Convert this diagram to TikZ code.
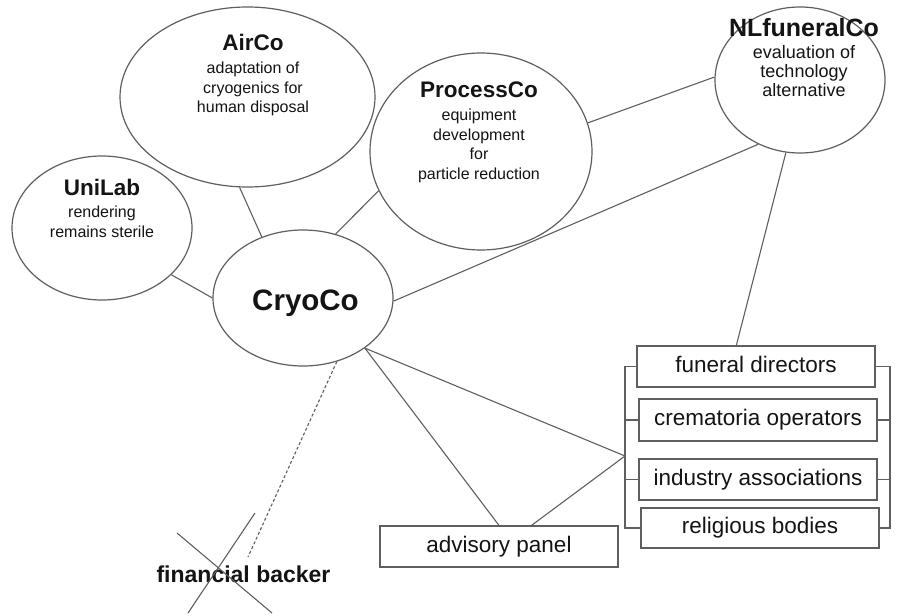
\documentclass[tikz,border=0pt]{standalone}
\usepackage{fontspec}
\setmainfont{Liberation Sans}
\usetikzlibrary{shapes.geometric}
\definecolor{ln}{RGB}{95,95,95}
\definecolor{tx}{RGB}{20,20,20}
\newcommand{\orgtitle}[1]{{\fontsize{22.5}{24}\selectfont\bfseries #1}}
\newcommand{\orgtitlebig}[1]{{\fontsize{25}{26}\selectfont\bfseries #1}}
\tikzset{
  orb/.style={ellipse, draw=ln, line width=1.2pt, inner sep=0pt},
  lbl/.style={align=center, text=tx, inner sep=0pt, anchor=north, font=\fontsize{16}{19.5}\selectfont},
  grp/.style={rectangle, draw=ln, line width=1.2pt, minimum width=238pt, inner sep=0pt,
              text=tx, text height=16pt, text depth=4.5pt, font=\fontsize{22.5}{25}\selectfont},
  link/.style={draw=ln, line width=1.1pt},
}
\begin{document}
\begin{tikzpicture}[x=1pt,y=-1pt]
\useasboundingbox (0,0) rectangle (901,615);
\fill[white] (0,0) rectangle (901,615);
% ellipses
\node[orb, minimum width=255pt, minimum height=180pt] (airco) at (247.5,97) {};
\node[orb, minimum width=180pt, minimum height=144pt] (unilab) at (102,228) {};
\node[orb, minimum width=180pt, minimum height=136pt] (cryo) at (303,298) {};
\node[orb, minimum width=222pt, minimum height=197pt] (proc) at (481,151.5) {};
\node[orb, minimum width=170pt, minimum height=146pt] (nl) at (800,80) {};
% labels
\node[lbl] (airlbl) at (253,34) {\orgtitle{AirCo}\\[3.5pt]adaptation of\\cryogenics for\\human disposal};
\node[lbl] (unilbl) at (102,179) {\orgtitle{UniLab}\\[2.5pt]rendering\\remains sterile};
\node[lbl] (proclbl) at (479,82) {\orgtitle{ProcessCo}\\[3.5pt]equipment\\development\\for\\particle reduction};
\node[lbl, font=\fontsize{18}{19}\selectfont] (nllbl) at (804,18) {\orgtitlebig{NLfuneralCo}\\[3pt]evaluation of\\technology\\alternative};
\node[text=tx, inner sep=0pt, anchor=base, font=\fontsize{29.5}{30}\selectfont\bfseries] (cryolbl) at (305.5,310) {CryoCo};
% boxes
\node[grp, minimum height=41pt] (fd) at (756,366.5) {funeral directors};
\node[grp, minimum height=42pt] (co) at (758,420) {crematoria operators};
\node[grp, minimum height=41pt] (ia) at (758,479.5) {industry associations};
\node[grp, minimum height=40pt] (rb) at (760,528) {religious bodies};
\node[grp, minimum height=41pt] (adv) at (499,546.5) {advisory panel};
% brackets
\coordinate (apex) at (625,456);
\coordinate (rbar) at (890,456);
\draw[link] (fd.west) -- (fd.west -| apex) -- (rb.west -| apex) -- (rb.west);
\draw[link] (co.west) -- (co.west -| apex);
\draw[link] (ia.west) -- (ia.west -| apex);
\draw[link] (fd.east) -- (fd.east -| rbar) -- (rb.east -| rbar) -- (rb.east);
\draw[link] (co.east) -- (co.east -| rbar);
\draw[link] (ia.east) -- (ia.east -| rbar);
% connectors
\draw[link] (unilab.326.5) -- (cryo.180);
\draw[link] (airco.265) -- (cryo.124);
\draw[link] (proc.201) -- (cryo.63.4);
\draw[link] (proc.15.4) -- (nl.178);
\draw[link] (nl.237.2) -- (cryo.358);
\draw[link] (nl.259.8) -- (fd.133);
\draw[link] (cryo.321) -- (apex);
\draw[link] (cryo.321) -- (adv.north);
\draw[link] (adv.33.5) -- (apex);
% financial backer
\node[text=tx, inner sep=0pt, anchor=base, font=\fontsize{23}{25}\selectfont\bfseries] (fb) at (243.5,582) {financial backer};
\coordinate (fbend) at (248,557);
\draw[link, dash pattern=on 3pt off 2.2pt] (cryo.298.4) -- (fbend);
\coordinate (xa1) at (177,533);
\coordinate (xa2) at (272,613);
\coordinate (xb1) at (255,513);
\coordinate (xb2) at (188,613);
\draw[link] (xa1) -- (xa2);
\draw[link] (xb1) -- (xb2);
\end{tikzpicture}
\end{document}
